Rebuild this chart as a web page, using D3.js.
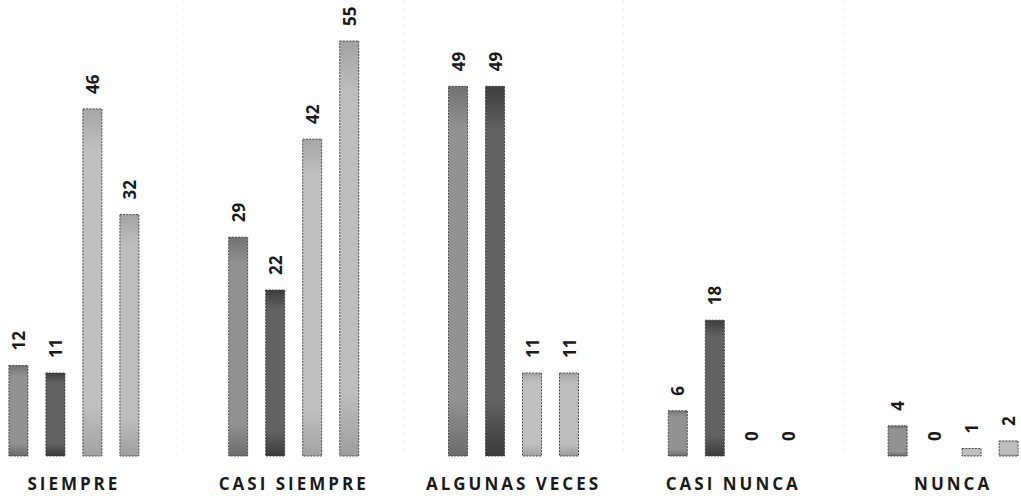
<!DOCTYPE html>
<html>
<head>
<meta charset="utf-8">
<script src="https://cdn.jsdelivr.net/npm/d3@7"></script>
<style>
  html, body { margin: 0; padding: 0; background: #fff; }
  svg { display: block; }
</style>
</head>
<body>
<svg id="chart" width="1021" height="500"></svg>
<script>
// Response categories and the four grouped series
const categories = ["SIEMPRE", "CASI SIEMPRE", "ALGUNAS VECES", "CASI NUNCA", "NUNCA"];
const seriesNames = ["S1", "S2", "S3", "S4"];
const serie1 = [12, 29, 49, 6, 4];
const serie2 = [11, 22, 49, 18, 0];
const serie3 = [46, 42, 11, 0, 1];
const serie4 = [32, 55, 11, 0, 2];
const seriesValues = [serie1, serie2, serie3, serie4];

const fills = [
  { top: "#727272", mid: "#929292", bot: "#6c6c6c" },
  { top: "#3e3e3e", mid: "#626262", bot: "#3a3a3a" },
  { top: "#a6a6a6", mid: "#c0c0c0", bot: "#a2a2a2" },
  { top: "#a3a3a3", mid: "#bdbdbd", bot: "#9e9e9e" }
];

const svg = d3.select("#chart");
const baseY = 456;

const x0 = d3.scaleBand().domain(categories).range([-36, 1063]);
const y = d3.scaleLinear().domain([0, 55]).range([baseY, 41]);

// vertical gradients for the bar fills
const defs = svg.append("defs");
fills.forEach((f, i) => {
  const g = defs.append("linearGradient").attr("id", "g" + i)
    .attr("x1", 0).attr("y1", 0).attr("x2", 0).attr("y2", 1);
  g.append("stop").attr("offset", "0%").attr("stop-color", f.top);
  g.append("stop").attr("offset", "12%").attr("stop-color", f.mid);
  g.append("stop").attr("offset", "85%").attr("stop-color", f.mid);
  g.append("stop").attr("offset", "100%").attr("stop-color", f.bot);
});

// faint separators between categories
svg.append("g").selectAll("line")
  .data(categories.slice(1))
  .join("line")
  .attr("x1", d => x0(d)).attr("x2", d => x0(d))
  .attr("y1", 0).attr("y2", baseY)
  .attr("stroke", "#f0f0f0").attr("stroke-width", 1)
  .attr("stroke-dasharray", "3,5");

const groupW = 130;
const barW = 19;
const xs = d3.scalePoint().domain(seriesNames).range([0, groupW - barW]);

const groups = svg.append("g").selectAll("g")
  .data(categories)
  .join("g")
  .attr("transform", d => `translate(${x0(d) + x0.bandwidth() / 2 - groupW / 2},0)`);

groups.each(function (cat, ci) {
  const g = d3.select(this);
  seriesNames.forEach((s, si) => {
    const v = seriesValues[si][ci];
    const bx = xs(s);
    if (v > 0) {
      g.append("rect")
        .attr("x", bx).attr("y", y(v))
        .attr("width", barW).attr("height", baseY - y(v))
        .attr("fill", `url(#g${si})`)
        .attr("stroke", "#3a3a3a").attr("stroke-width", 0.9)
        .attr("stroke-dasharray", "2,1.2");
    }
    g.append("text")
      .attr("transform", `translate(${bx + barW / 2 + 6.5},${y(v) - 15}) rotate(-90)`)
      .attr("text-anchor", "start")
      .attr("font-family", "'Open Sans', sans-serif")
      .attr("font-weight", "bold")
      .attr("font-size", 17)
      .attr("fill", "#1a1a1a")
      .text(v);
  });
});

// category labels
svg.append("g").selectAll("text")
  .data(categories)
  .join("text")
  .attr("x", d => x0(d) + x0.bandwidth() / 2)
  .attr("y", 490)
  .attr("text-anchor", "middle")
  .attr("font-family", "'Open Sans', sans-serif")
  .attr("font-weight", "bold")
  .attr("font-size", 17)
  .attr("letter-spacing", 3)
  .attr("fill", "#1a1a1a")
  .text(d => d);
</script>
</body>
</html>
